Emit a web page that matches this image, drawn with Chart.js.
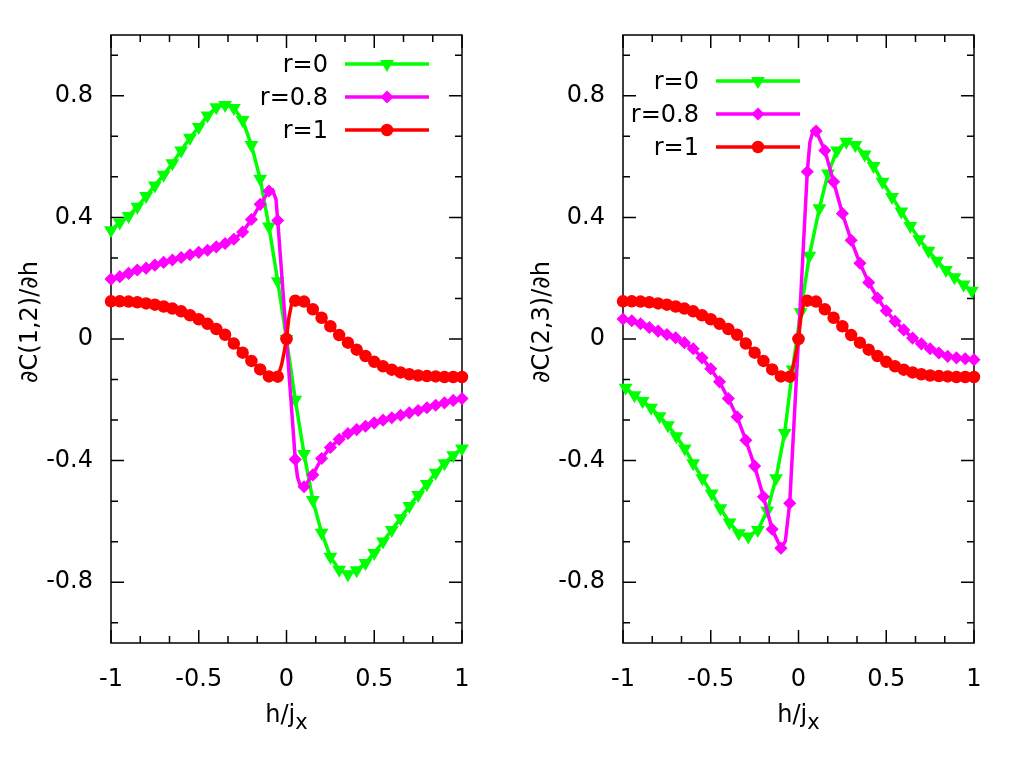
<!DOCTYPE html>
<html>
<head>
<meta charset="utf-8">
<script src="https://cdn.jsdelivr.net/npm/chart.js@4.4.1/dist/chart.umd.min.js"></script>
<style>
  html, body { margin: 0; padding: 0; background: #fff; }
  #wrap { display: flex; width: 1024px; height: 768px; }
  canvas { display: block; }
</style>
</head>
<body>
<div id="wrap">
  <canvas id="left" width="512" height="768"></canvas>
  <canvas id="right" width="512" height="768"></canvas>
</div>
<script>
// h/jx grid of the plotted markers
const hGrid = [-1, -0.95, -0.9, -0.85, -0.8, -0.75, -0.7, -0.65, -0.6, -0.55, -0.5,
  -0.45, -0.4, -0.35, -0.3, -0.25, -0.2, -0.15, -0.1, -0.05, 0,
  0.05, 0.1, 0.15, 0.2, 0.25, 0.3, 0.35, 0.4, 0.45, 0.5,
  0.55, 0.6, 0.65, 0.7, 0.75, 0.8, 0.85, 0.9, 0.95, 1];

// left panel, dC(1,2)/dh
const g12 = [0.358, 0.383, 0.405, 0.435, 0.47, 0.505, 0.54, 0.578, 0.62, 0.662, 0.697,
  0.735, 0.762, 0.77, 0.76, 0.72, 0.638, 0.527, 0.37, 0.19, 0,
  -0.2, -0.378, -0.53, -0.637, -0.716, -0.759, -0.774, -0.761, -0.737, -0.704,
  -0.666, -0.628, -0.59, -0.549, -0.513, -0.477, -0.44, -0.409, -0.382, -0.36];
const m12 = [0.197, 0.205, 0.216, 0.227, 0.233, 0.243, 0.252, 0.26, 0.268, 0.277, 0.285,
  0.292, 0.303, 0.314, 0.328, 0.352, 0.393, 0.443, 0.487, 0.39, 0,
  -0.396, -0.486, -0.447, -0.393, -0.357, -0.33, -0.311, -0.298, -0.287, -0.276,
  -0.267, -0.259, -0.251, -0.243, -0.235, -0.226, -0.218, -0.21, -0.202, -0.196];
// line-only points near the sharp turns
const m12Extra = [[-0.08, 0.49], [-0.06, 0.46], [0.063, -0.455], [0.08, -0.485]];

// r=1 curve, same in both panels
const redY = [0.124, 0.124, 0.123, 0.121, 0.117, 0.113, 0.107, 0.1, 0.091, 0.078, 0.065,
  0.05, 0.033, 0.014, -0.015, -0.045, -0.072, -0.1, -0.123, -0.124, 0,
  0.126, 0.123, 0.098, 0.07, 0.042, 0.013, -0.012, -0.035, -0.056, -0.075,
  -0.09, -0.101, -0.11, -0.116, -0.12, -0.122, -0.123, -0.125, -0.125, -0.125];
const redExtra = [[-0.028, -0.085], [-0.013, -0.042], [0.013, 0.068], [0.028, 0.112]];

// right panel, dC(2,3)/dh
const g23X = [-0.985, -0.935, -0.888, -0.84, -0.792, -0.744, -0.696, -0.648, -0.6, -0.548,
  -0.495, -0.445, -0.393, -0.34, -0.286, -0.232, -0.178, -0.128, -0.079, -0.034,
  0.012, 0.062, 0.119, 0.168, 0.219, 0.272, 0.324, 0.377, 0.428, 0.479,
  0.533, 0.586, 0.637, 0.688, 0.741, 0.789, 0.84, 0.889, 0.941, 0.988];
const g23Y = [-0.16, -0.185, -0.204, -0.226, -0.254, -0.284, -0.32, -0.36, -0.409, -0.458,
  -0.508, -0.557, -0.604, -0.639, -0.65, -0.628, -0.565, -0.458, -0.309, -0.1,
  0.088, 0.274, 0.43, 0.544, 0.62, 0.649, 0.638, 0.607, 0.569, 0.517,
  0.467, 0.419, 0.372, 0.328, 0.29, 0.257, 0.227, 0.203, 0.179, 0.159];
const m23 = [0.066, 0.06, 0.05, 0.038, 0.026, 0.015, 0.004, -0.012, -0.032, -0.062, -0.098,
  -0.141, -0.196, -0.256, -0.333, -0.418, -0.519, -0.626, -0.688, -0.54, 0,
  0.55, 0.684, 0.62, 0.517, 0.413, 0.325, 0.249, 0.186, 0.135, 0.093,
  0.058, 0.03, 0.003, -0.016, -0.032, -0.046, -0.057, -0.062, -0.065, -0.068];
const m23Extra = [[-0.075, -0.665], [0.065, 0.648], [0.085, 0.688]];

const seriesLabels = ['r=0', 'r=0.8', 'r=1'];
const xTicks = [-1, -0.5, 0, 0.5, 1];
const xTickLabels = ['-1', '-0.5', '0', '0.5', '1'];
const yTicks = [-0.8, -0.4, 0, 0.4, 0.8];
const yTickLabels = ['-0.8', '-0.4', '0', '0.4', '0.8'];

const GREEN = '#00ff00', MAGENTA = '#ff00ff', RED = '#ff0000';
const FONT = 'DejaVu Sans';

Chart.defaults.font.family = FONT;
Chart.defaults.font.size = 24;
Chart.defaults.color = '#000';

function series(xs, ys, extra) {
  const pts = xs.map((x, i) => ({ x: x, y: ys[i], mark: true }));
  (extra || []).forEach(p => pts.push({ x: p[0], y: p[1], mark: false }));
  pts.sort((a, b) => a.x - b.x);
  return pts;
}

function dataset(label, color, pts, style, radius, rot, order) {
  return {
    label: label,
    data: pts,
    showLine: true,
    borderColor: color,
    backgroundColor: color,
    borderWidth: 3.5,
    tension: 0,
    pointStyle: style,
    pointRotation: rot,
    pointRadius: c => (c.raw && c.raw.mark ? radius : 0),
    pointBorderWidth: 1.5,
    pointBorderColor: color,
    pointBackgroundColor: color,
    clip: 10,
    order: order
  };
}

// border and inward ticks on all four sides, gnuplot style
const frame = {
  id: 'gpFrame',
  beforeDatasetsDraw(chart) {
    const { ctx, chartArea: a, scales } = chart;
    const xs = scales.x, ys = scales.y;
    ctx.save();
    ctx.strokeStyle = '#000';
    ctx.lineWidth = 1.5;
    ctx.beginPath();
    const tick = (v, len, isX) => {
      if (isX) {
        const p = xs.getPixelForValue(v);
        ctx.moveTo(p, a.bottom); ctx.lineTo(p, a.bottom - len);
        ctx.moveTo(p, a.top); ctx.lineTo(p, a.top + len);
      } else {
        const p = ys.getPixelForValue(v);
        ctx.moveTo(a.left, p); ctx.lineTo(a.left + len, p);
        ctx.moveTo(a.right, p); ctx.lineTo(a.right - len, p);
      }
    };
    xTicks.forEach(v => tick(v, 13, true));
    for (let k = -6; k <= 6; k++) if (k % 3) tick(k * 0.5 / 3, 7, true);
    yTicks.forEach(v => tick(v, 13, false));
    for (let k = -7; k <= 7; k++) if (k % 3) tick(k * 0.4 / 3, 7, false);
    ctx.stroke();
    ctx.strokeRect(a.left, a.top, a.right - a.left, a.bottom - a.top);
    ctx.restore();
  }
};

// axis titles and the key
const texts = {
  id: 'gpText',
  afterDraw(chart, args, opts) {
    const ctx = chart.ctx;
    ctx.save();
    ctx.fillStyle = '#000';
    ctx.font = '24px "' + FONT + '"';

    // y title
    ctx.save();
    ctx.translate(31, 322);
    ctx.rotate(-Math.PI / 2);
    ctx.textAlign = 'center';
    ctx.textBaseline = 'middle';
    ctx.fillText(opts.yTitle, 0, 0);
    ctx.restore();

    // x title h/j with subscript x
    ctx.textBaseline = 'alphabetic';
    ctx.textAlign = 'left';
    const main = 'h/j', sub = 'x';
    const w1 = ctx.measureText(main).width;
    ctx.font = '21px "' + FONT + '"';
    const w2 = ctx.measureText(sub).width;
    const cx = (chart.chartArea.left + chart.chartArea.right) / 2;
    const x0 = cx - (w1 + w2) / 2;
    ctx.fillText(sub, x0 + w1, 729);
    ctx.font = '24px "' + FONT + '"';
    ctx.fillText(main, x0, 722);

    // key
    const L = opts.legend;
    chart.data.datasets.forEach((ds, i) => {
      const y = L.rows[i];
      ctx.textAlign = 'right';
      ctx.textBaseline = 'middle';
      ctx.fillStyle = '#000';
      ctx.fillText(ds.label, L.textRight, y + 2);
      ctx.strokeStyle = ds.borderColor;
      ctx.lineWidth = 3.5;
      ctx.beginPath();
      ctx.moveTo(L.x1, y);
      ctx.lineTo(L.x2, y);
      ctx.stroke();
      ctx.fillStyle = ds.borderColor;
      ctx.lineWidth = 1.5;
      Chart.helpers.drawPoint(ctx, {
        pointStyle: ds.pointStyle,
        rotation: ds.pointRotation,
        radius: L.radius[i],
        borderWidth: 1.5
      }, (L.x1 + L.x2) / 2, y);
    });
    ctx.restore();
  }
};

function makeChart(id, datasets, yTitle, legend) {
  return new Chart(document.getElementById(id), {
    type: 'scatter',
    data: { datasets: datasets },
    options: {
      responsive: false,
      animation: false,
      events: [],
      devicePixelRatio: 1,
      layout: { padding: { top: 35, right: 50, left: 0, bottom: 0 } },
      plugins: {
        legend: { display: false },
        tooltip: { enabled: false },
        gpText: { yTitle: yTitle, legend: legend }
      },
      scales: {
        x: {
          type: 'linear', min: -1, max: 1,
          afterBuildTicks: s => { s.ticks = xTicks.map(v => ({ value: v })); },
          afterFit: s => { s.height = 125; },
          ticks: {
            callback: v => xTickLabels[xTicks.indexOf(v)],
            padding: 22, maxRotation: 0, autoSkip: false
          },
          grid: { display: false, drawTicks: false },
          border: { display: false }
        },
        y: {
          type: 'linear', min: -1, max: 1,
          afterBuildTicks: s => { s.ticks = yTicks.map(v => ({ value: v })); },
          afterFit: s => { s.width = 111; },
          ticks: {
            callback: v => yTickLabels[yTicks.indexOf(v)],
            padding: 18, autoSkip: false
          },
          grid: { display: false, drawTicks: false },
          border: { display: false }
        }
      }
    },
    plugins: [frame, texts]
  });
}

const MARK = [6.5, 5.5, 5.5];

makeChart('left', [
  dataset(seriesLabels[0], GREEN, series(hGrid, g12), 'triangle', MARK[0], 180, 3),
  dataset(seriesLabels[1], MAGENTA, series(hGrid, m12, m12Extra), 'rectRot', MARK[1], 0, 2),
  dataset(seriesLabels[2], RED, series(hGrid, redY, redExtra), 'circle', MARK[2], 0, 1)
], '\u2202C(1,2)/\u2202h', { textRight: 328, x1: 345, x2: 429, rows: [64, 97, 130], radius: MARK });

makeChart('right', [
  dataset(seriesLabels[0], GREEN, series(g23X, g23Y), 'triangle', MARK[0], 180, 3),
  dataset(seriesLabels[1], MAGENTA, series(hGrid, m23, m23Extra), 'rectRot', MARK[1], 0, 2),
  dataset(seriesLabels[2], RED, series(hGrid, redY, redExtra), 'circle', MARK[2], 0, 1)
], '\u2202C(2,3)/\u2202h', { textRight: 187, x1: 204, x2: 288, rows: [81, 114, 147], radius: MARK });
</script>
</body>
</html>
